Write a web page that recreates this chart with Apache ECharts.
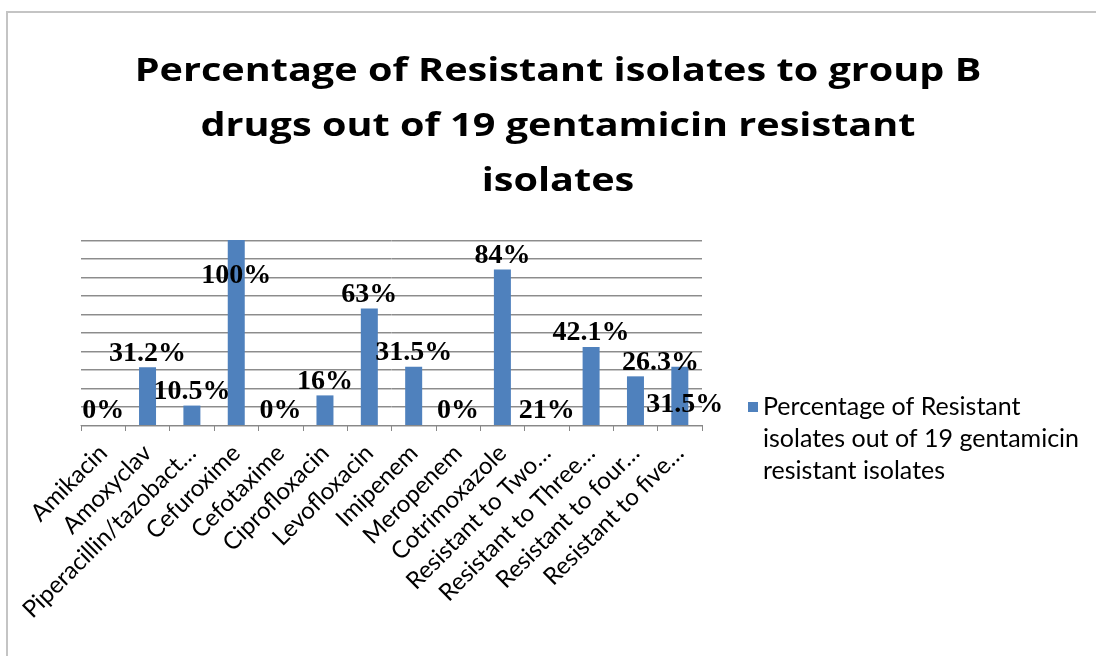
<!DOCTYPE html>
<html>
<head>
<meta charset="utf-8">
<script src="https://cdn.jsdelivr.net/npm/echarts@6/dist/echarts.min.js"></script>
<style>
  html, body { margin: 0; padding: 0; background: #fff; }
  #main { width: 1096px; height: 656px; }
</style>
</head>
<body>
<div id="main"></div>
<script>
// 分类
var categories = ['Amikacin', 'Amoxyclav', 'Piperacillin/tazobact…', 'Cefuroxime', 'Cefotaxime',
  'Ciprofloxacin', 'Levofloxacin', 'Imipenem', 'Meropenem', 'Cotrimoxazole',
  'Resistant to Two…', 'Resistant to Three…', 'Resistant to four…', 'Resistant to five…'];
// 柱高
var values = [0, 31.2, 10.5, 100, 0, 16, 63, 31.5, 0, 84, 0, 42.1, 26.3, 31.5];
// 标签文字
var labelTexts = ['0%', '31.2%', '10.5%', '100%', '0%', '16%', '63%', '31.5%', '0%', '84%', '21%', '42.1%', '26.3%', '31.5%'];
var chartTitle = 'Percentage of Resistant isolates to group B\ndrugs out of 19 gentamicin resistant\nisolates';
// 两个空行让图例方块对齐第一行
var seriesName = '\n\nPercentage of Resistant\nisolates out of 19 gentamicin\nresistant isolates';

var data = [];
for (var i = 0; i < values.length; i++) {
  var item = { value: values[i], label: { formatter: labelTexts[i] } };
  if (i == 3) { item.label.position = 'insideTop'; item.label.distance = 22; }
  if (i == 12) { item.label.offset = [25, 0]; }
  if (i == 13) { item.label.position = 'insideTop'; item.label.distance = 24; item.label.offset = [5, 0]; }
  data.push(item);
}

var myChart = echarts.init(document.getElementById('main'));
var option = {
  backgroundColor: '#fff',
  animation: false,
  graphic: [{
    type: 'rect', shape: { x: 7, y: 12, width: 1200, height: 800 },
    style: { fill: 'none', stroke: '#c4c4c4', lineWidth: 2 }, silent: true
  }, {
    type: 'text', x: 558, y: 44, scaleX: 1.2, silent: true,
    style: {
      text: chartTitle, align: 'center', verticalAlign: 'top',
      font: 'bold 33px "Open Sans"', lineHeight: 55, fill: '#000'
    }
  }],
  legend: {
    left: 743, top: 322, orient: 'vertical',
    itemWidth: 10, itemHeight: 10, itemGap: 10,
    icon: 'rect',
    textStyle: { fontFamily: 'Lato', fontSize: 25, lineHeight: 32, color: '#000' },
    data: [seriesName]
  },
  grid: { left: 81, right: 394, top: 240, bottom: 231, containLabel: false },
  xAxis: {
    type: 'category', data: categories,
    axisLine: { lineStyle: { color: '#888', width: 1 } },
    axisTick: { show: true, length: 6, lineStyle: { color: '#888' } },
    axisLabel: { rotate: 45, interval: 0, margin: 24, fontFamily: 'Lato', fontSize: 24, color: '#000' }
  },
  yAxis: {
    type: 'value', min: 0, max: 100, interval: 10,
    axisLine: { show: false }, axisTick: { show: false }, axisLabel: { show: false },
    splitLine: { lineStyle: { color: '#8c8c8c', width: 1, shadowColor: '#c8c8c8', shadowOffsetY: 1 } }
  },
  series: [{
    name: seriesName, type: 'bar', data: data, barWidth: 17,
    itemStyle: { color: '#4f81bd' },
    label: {
      show: true, position: 'top', distance: 0,
      fontFamily: 'Liberation Serif', fontWeight: 'bold', fontSize: 28, color: '#000'
    }
  }]
};
myChart.setOption(option);
</script>
</body>
</html>
